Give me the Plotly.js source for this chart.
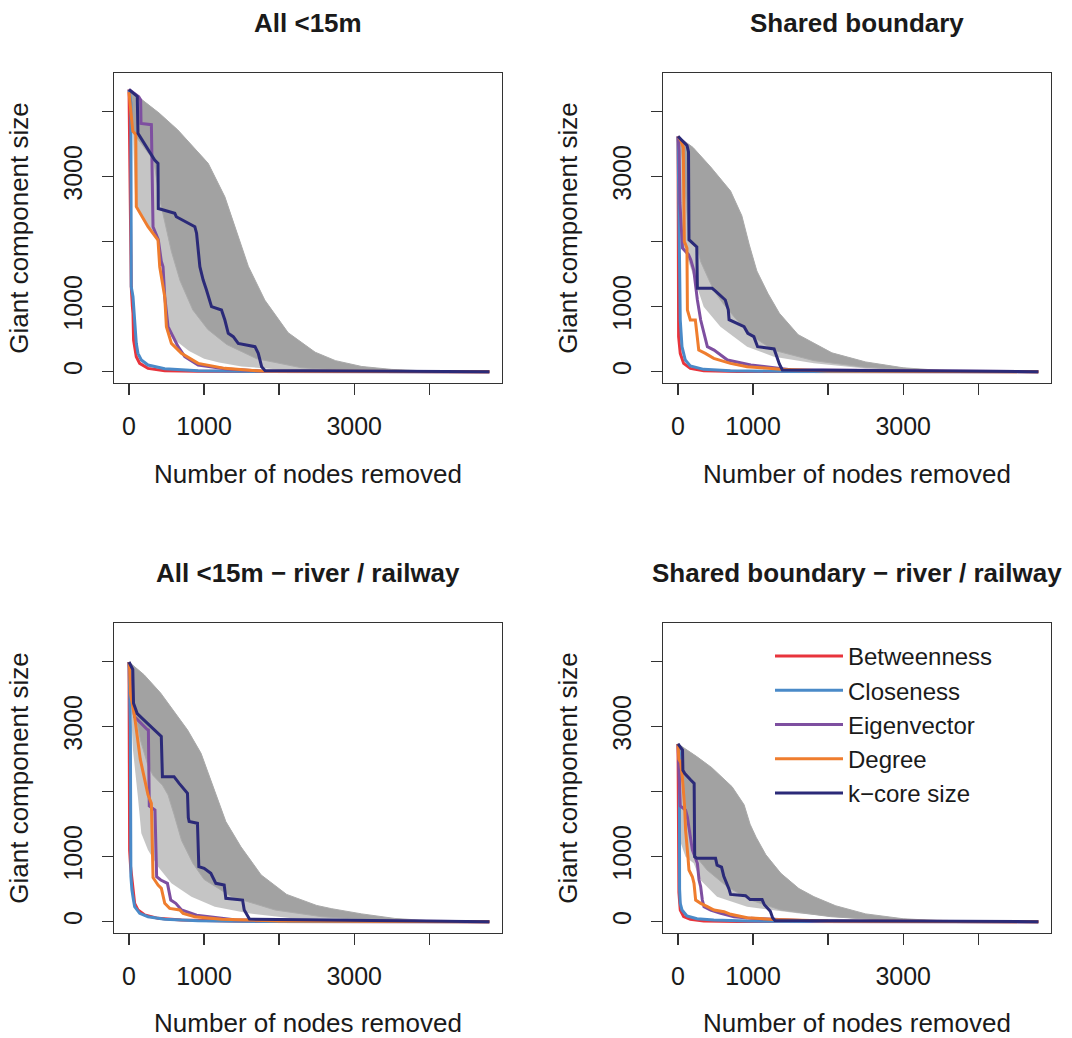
<!DOCTYPE html>
<html><head><meta charset="utf-8">
<script src="https://cdn.plot.ly/plotly-3.0.1.min.js"></script>
<style>html,body{margin:0;padding:0;background:#fff}#chart{width:1072px;height:1038px}</style>
</head><body><div id="chart"></div><script>
// ---------- labels ----------
const panelTitles = ['All <15m', 'Shared boundary', 'All <15m \u2212 river / railway', 'Shared boundary \u2212 river / railway'];
const seriesNames = ['Betweenness', 'Closeness', 'Eigenvector', 'Degree', 'k\u2212core size'];
const seriesColors = ['#e8343c', '#4a8ac8', '#7e4fa0', '#ef7d2e', '#2b2a78'];
const xTickVals = [0, 1000, 2000, 3000, 4000];
const xTickText = ['0', '1000', '', '3000', ''];
const yTickVals = [0, 1000, 2000, 3000, 4000];
const yTickText = ['0', '1000', '', '3000', ''];

// ---------- Panel 1: All <15m ----------
const all_randUpperX = [0, 100, 200, 400, 650, 1055, 1277, 1455, 1590, 1810, 2120, 2480, 2750, 3100, 3500, 4000, 4800];
const all_randUpperY = [4340, 4250, 4160, 3980, 3720, 3205, 2690, 2080, 1620, 1100, 600, 300, 170, 80, 35, 10, 0];
const all_randLowX = [0, 50, 80, 100, 250, 385, 420, 480, 520, 600, 800, 1000, 1200, 1500, 2000, 3000, 4800];
const all_randLowY = [4340, 3800, 2700, 2560, 2250, 2050, 1700, 1150, 750, 500, 320, 200, 140, 80, 35, 5, 0];
const all_randCoreX = [0, 40, 97, 330, 400, 480, 565, 680, 850, 1050, 1300, 1700, 2300, 3000, 4800];
const all_randCoreY = [4340, 3700, 3600, 3250, 2700, 2300, 1850, 1400, 950, 650, 420, 200, 60, 12, 0];
const all_betweenX = [0, 8, 17, 25, 30, 45, 53, 61, 75, 97, 142, 253, 476, 900, 4800];
const all_betweenY = [4340, 3300, 2180, 1600, 1308, 1000, 897, 487, 385, 231, 128, 51, 16, 5, 0];
const all_closeX = [0, 25, 30, 53, 75, 97, 119, 164, 253, 476, 921, 1800, 4800];
const all_closeY = [4340, 4130, 1308, 1154, 795, 436, 282, 180, 102, 46, 16, 3, 0];
const all_eigenX = [0, 130, 155, 160, 298, 320, 390, 430, 453, 476, 520, 587, 654, 743, 921, 1300, 1800, 4800];
const all_eigenY = [4340, 4230, 4180, 3820, 3800, 2230, 2030, 1700, 1615, 1154, 692, 539, 385, 231, 102, 40, 8, 0];
const all_degreeX = [0, 15, 50, 90, 97, 253, 386, 409, 440, 476, 498, 565, 698, 921, 1277, 1767, 4800];
const all_degreeY = [4300, 4100, 3700, 3650, 2538, 2231, 2026, 1615, 1400, 1154, 692, 436, 282, 128, 51, 10, 0];
const all_kcoreX = [0, 110, 119, 342, 386, 390, 610, 630, 877, 900, 944, 988, 1032, 1099, 1232, 1277, 1322, 1389, 1455, 1678, 1722, 1767, 1811, 4800];
const all_kcoreY = [4340, 4235, 3667, 3256, 3205, 2510, 2436, 2384, 2231, 2130, 1615, 1410, 1256, 1000, 949, 795, 590, 539, 436, 385, 282, 77, 20, 0];

// ---------- Panel 2: Shared boundary ----------
const shared_randUpperX = [0, 200, 435, 700, 850, 950, 1050, 1200, 1350, 1600, 2050, 2500, 3000, 3500, 4000, 4800];
const shared_randUpperY = [3620, 3450, 3150, 2780, 2400, 1950, 1550, 1200, 900, 570, 290, 150, 60, 20, 5, 0];
const shared_randLowX = [0, 15, 30, 75, 130, 253, 342, 565, 921, 1277, 1811, 2500, 3500, 4800];
const shared_randLowY = [3620, 3000, 2200, 1920, 1750, 1308, 1000, 692, 385, 231, 128, 50, 10, 0];
const shared_randCoreX = [0, 40, 84, 146, 258, 300, 476, 600, 743, 966, 1277, 1811, 2480, 3200, 4800];
const shared_randCoreY = [3620, 3450, 3000, 2030, 1900, 1700, 1250, 1050, 850, 560, 330, 170, 70, 20, 0];
const shared_betweenX = [0, 2, 4, 8, 30, 75, 164, 342, 800, 4800];
const shared_betweenY = [3620, 2200, 850, 539, 282, 128, 51, 15, 3, 0];
const shared_closeX = [0, 8, 15, 20, 30, 53, 97, 164, 342, 698, 1500, 4800];
const shared_closeY = [3620, 3000, 2400, 1820, 795, 385, 180, 87, 36, 15, 3, 0];
const shared_eigenX = [0, 15, 25, 60, 140, 170, 210, 258, 302, 346, 391, 480, 659, 970, 1500, 4800];
const shared_eigenY = [3620, 3400, 2600, 1900, 1800, 1720, 1560, 1103, 795, 590, 385, 333, 180, 103, 30, 0];
const shared_degreeX = [0, 40, 70, 84, 100, 119, 125, 164, 231, 253, 276, 364, 476, 698, 921, 1366, 2000, 4800];
const shared_degreeY = [3620, 3550, 3450, 2000, 1960, 1900, 950, 795, 795, 590, 333, 282, 205, 128, 77, 36, 10, 0];
const shared_kcoreX = [0, 120, 140, 146, 250, 258, 455, 500, 630, 670, 680, 790, 880, 930, 1010, 1060, 1280, 1350, 1390, 4800];
const shared_kcoreY = [3620, 3480, 3380, 2030, 1920, 1282, 1282, 1240, 1103, 950, 800, 744, 692, 590, 539, 385, 350, 120, 26, 0];

// ---------- Panel 3: All <15m - river / railway ----------
const allRR_randUpperX = [0, 200, 420, 780, 960, 1140, 1290, 1490, 1760, 2100, 2500, 2700, 3100, 3540, 4000, 4800];
const allRR_randUpperY = [3995, 3800, 3520, 2950, 2590, 2030, 1540, 1154, 720, 420, 250, 200, 120, 50, 15, 0];
const allRR_randLowX = [0, 20, 53, 120, 164, 253, 387, 565, 832, 1143, 1589, 2200, 3000, 4800];
const allRR_randLowY = [3995, 3400, 2641, 1900, 1359, 1103, 846, 590, 385, 231, 128, 50, 10, 0];
const allRR_randCoreX = [0, 20, 75, 150, 253, 320, 445, 520, 600, 700, 850, 1000, 1366, 1945, 2568, 3300, 4800];
const allRR_randCoreY = [3995, 3700, 3300, 2800, 2400, 2250, 2100, 1950, 1650, 1250, 900, 650, 385, 180, 77, 20, 0];
const allRR_betweenX = [0, 3, 8, 21, 53, 75, 119, 209, 387, 698, 1500, 4800];
const allRR_betweenY = [3995, 2000, 1100, 846, 487, 282, 180, 103, 51, 26, 5, 0];
const allRR_closeX = [0, 8, 18, 25, 39, 60, 75, 142, 253, 476, 921, 1800, 4800];
const allRR_closeY = [3995, 3300, 3000, 700, 487, 330, 231, 128, 77, 36, 15, 3, 0];
const allRR_eigenX = [0, 20, 75, 200, 240, 258, 270, 346, 368, 423, 512, 556, 623, 700, 900, 1400, 4800];
const allRR_eigenY = [3995, 3700, 3150, 3000, 2960, 2949, 1780, 1718, 692, 641, 590, 333, 282, 180, 100, 30, 0];
const allRR_degreeX = [0, 8, 20, 75, 150, 253, 298, 320, 342, 387, 431, 476, 542, 676, 720, 877, 1233, 2000, 4800];
const allRR_degreeY = [3995, 3900, 3500, 3154, 2500, 1950, 1820, 680, 641, 564, 513, 282, 205, 180, 128, 77, 36, 10, 0];
const allRR_kcoreX = [0, 50, 60, 110, 200, 340, 400, 430, 445, 600, 668, 779, 790, 801, 912, 930, 1001, 1090, 1157, 1268, 1290, 1513, 1535, 1570, 1605, 4800];
const allRR_kcoreY = [3995, 3880, 3360, 3200, 3100, 2950, 2870, 2850, 2231, 2231, 2128, 1974, 1600, 1540, 1513, 846, 821, 744, 590, 564, 359, 333, 180, 100, 40, 0];

// ---------- Panel 4: Shared boundary - river / railway ----------
const sharedRR_randUpperX = [0, 250, 450, 720, 880, 960, 1040, 1170, 1370, 1610, 1811, 2100, 2500, 3000, 3500, 4000, 4800];
const sharedRR_randUpperY = [2735, 2540, 2370, 2077, 1800, 1500, 1300, 1030, 744, 510, 385, 245, 120, 45, 15, 5, 0];
const sharedRR_randLowX = [0, 15, 40, 100, 209, 298, 520, 921, 1589, 2400, 3500, 4800];
const sharedRR_randLowY = [2735, 2200, 1200, 1000, 898, 641, 385, 231, 128, 40, 8, 0];
const sharedRR_randCoreX = [0, 20, 57, 100, 218, 240, 387, 654, 966, 1366, 2034, 2800, 4800];
const sharedRR_randCoreY = [2735, 2550, 2250, 1800, 1100, 1000, 795, 539, 334, 180, 77, 20, 0];
const sharedRR_betweenX = [0, 2, 4, 8, 12, 30, 75, 164, 342, 800, 4800];
const sharedRR_betweenY = [2735, 1800, 1000, 700, 450, 180, 77, 36, 12, 3, 0];
const sharedRR_closeX = [0, 8, 18, 21, 30, 53, 119, 253, 476, 921, 1800, 4800];
const sharedRR_closeY = [2735, 2650, 2590, 500, 282, 180, 87, 46, 26, 10, 2, 0];
const sharedRR_eigenX = [0, 10, 30, 101, 124, 191, 235, 258, 280, 302, 324, 346, 435, 569, 747, 970, 1800, 4800];
const sharedRR_eigenY = [2735, 2300, 1780, 1718, 1615, 1103, 949, 898, 641, 538, 333, 231, 180, 128, 77, 51, 10, 0];
const sharedRR_degreeX = [0, 10, 35, 57, 88, 101, 132, 146, 191, 213, 235, 302, 391, 480, 613, 702, 921, 1282, 2000, 4800];
const sharedRR_degreeY = [2735, 2500, 2450, 2230, 1769, 1410, 1000, 795, 692, 590, 333, 282, 231, 180, 154, 113, 60, 35, 10, 0];
const sharedRR_kcoreX = [0, 60, 65, 90, 170, 215, 222, 250, 500, 520, 580, 610, 680, 700, 900, 960, 1120, 1150, 1230, 1260, 1290, 4800];
const sharedRR_kcoreY = [2735, 2640, 2330, 2280, 2180, 2128, 1000, 975, 975, 870, 840, 700, 500, 420, 400, 340, 340, 260, 160, 60, 20, 0];

// ---------- assemble ----------
const panels = [
  {up: [all_randUpperX, all_randUpperY], low: [all_randLowX, all_randLowY], core: [all_randCoreX, all_randCoreY],
   lines: [[all_betweenX, all_betweenY], [all_closeX, all_closeY], [all_eigenX, all_eigenY], [all_degreeX, all_degreeY], [all_kcoreX, all_kcoreY]]},
  {up: [shared_randUpperX, shared_randUpperY], low: [shared_randLowX, shared_randLowY], core: [shared_randCoreX, shared_randCoreY],
   lines: [[shared_betweenX, shared_betweenY], [shared_closeX, shared_closeY], [shared_eigenX, shared_eigenY], [shared_degreeX, shared_degreeY], [shared_kcoreX, shared_kcoreY]]},
  {up: [allRR_randUpperX, allRR_randUpperY], low: [allRR_randLowX, allRR_randLowY], core: [allRR_randCoreX, allRR_randCoreY],
   lines: [[allRR_betweenX, allRR_betweenY], [allRR_closeX, allRR_closeY], [allRR_eigenX, allRR_eigenY], [allRR_degreeX, allRR_degreeY], [allRR_kcoreX, allRR_kcoreY]]},
  {up: [sharedRR_randUpperX, sharedRR_randUpperY], low: [sharedRR_randLowX, sharedRR_randLowY], core: [sharedRR_randCoreX, sharedRR_randCoreY],
   lines: [[sharedRR_betweenX, sharedRR_betweenY], [sharedRR_closeX, sharedRR_closeY], [sharedRR_eigenX, sharedRR_eigenY], [sharedRR_degreeX, sharedRR_degreeY], [sharedRR_kcoreX, sharedRR_kcoreY]]}
];

const traces = [];
panels.forEach((p, i) => {
  const xa = i === 0 ? 'x' : 'x' + (i + 1);
  const ya = i === 0 ? 'y' : 'y' + (i + 1);
  traces.push({
    type: 'scatter', mode: 'lines', xaxis: xa, yaxis: ya, showlegend: false, hoverinfo: 'skip',
    x: p.up[0].concat(p.low[0].slice().reverse()), y: p.up[1].concat(p.low[1].slice().reverse()),
    fill: 'toself', fillcolor: 'rgba(150,150,150,0.55)', line: {width: 0}
  });
  traces.push({
    type: 'scatter', mode: 'lines', xaxis: xa, yaxis: ya, showlegend: false, hoverinfo: 'skip',
    x: p.up[0].concat(p.core[0].slice().reverse()), y: p.up[1].concat(p.core[1].slice().reverse()),
    fill: 'toself', fillcolor: '#a2a2a2', line: {width: 1, color: '#aaaaaa'}
  });
  p.lines.forEach((ln, k) => {
    traces.push({
      type: 'scatter', mode: 'lines', xaxis: xa, yaxis: ya,
      name: seriesNames[k], legendgroup: seriesNames[k], showlegend: i === 0,
      x: ln[0], y: ln[1], line: {color: seriesColors[k], width: 3}
    });
  });
});

const W = 1072, H = 1038;
const colX = [[114 / W, 502 / W], [663 / W, 1051 / W]];
const rowY = [[1 - 383 / H, 1 - 73 / H], [1 - 933 / H, 1 - 623 / H]];
const fontFam = '"Liberation Sans", Arial, Helvetica, sans-serif';

function xAxis(dom, anchor) {
  return {
    domain: dom, anchor: anchor, range: [-200, 4969], tickmode: 'array', tickvals: xTickVals, ticktext: xTickText,
    ticks: 'outside', ticklen: 11, tickwidth: 1.3, tickcolor: '#333', showline: true, mirror: true,
    linecolor: '#333', linewidth: 1.3, showgrid: false, zeroline: false, tickfont: {size: 25, color: '#1a1a1a'},
    ticklabelstandoff: 10,
    title: {text: 'Number of nodes removed', font: {size: 26, color: '#1a1a1a'}, standoff: 25}
  };
}
function yAxis(dom, anchor) {
  return {
    domain: dom, anchor: anchor, range: [-174, 4595], tickmode: 'array', tickvals: yTickVals, ticktext: yTickText,
    ticks: 'outside', ticklen: 11, tickwidth: 1.3, tickcolor: '#333', showline: true, mirror: true,
    linecolor: '#333', linewidth: 1.3, showgrid: false, zeroline: false, tickfont: {size: 25, color: '#1a1a1a'},
    tickangle: -90, ticklabelstandoff: 10,
    title: {text: 'Giant component size', font: {size: 26, color: '#1a1a1a'}, standoff: 22}
  };
}

const layout = {
  width: W, height: H, margin: {l: 0, r: 0, t: 0, b: 0},
  paper_bgcolor: '#fff', plot_bgcolor: '#fff',
  font: {family: fontFam, color: '#1a1a1a', size: 24},
  xaxis: xAxis(colX[0], 'y'), yaxis: yAxis(rowY[0], 'x'),
  xaxis2: xAxis(colX[1], 'y2'), yaxis2: yAxis(rowY[0], 'x2'),
  xaxis3: xAxis(colX[0], 'y3'), yaxis3: yAxis(rowY[1], 'x3'),
  xaxis4: xAxis(colX[1], 'y4'), yaxis4: yAxis(rowY[1], 'x4'),
  showlegend: true,
  legend: {x: 770 / W, y: 1 - 634 / H, xanchor: 'left', yanchor: 'top', bgcolor: 'rgba(0,0,0,0)',
    font: {size: 24, color: '#1a1a1a'}, itemwidth: 68, tracegroupgap: 0},
  annotations: [
    {text: '<b>' + panelTitles[0].replace('<', '&lt;') + '</b>', x: 308 / W, y: 1 - 23 / H},
    {text: '<b>' + panelTitles[1] + '</b>', x: 857 / W, y: 1 - 23 / H},
    {text: '<b>' + panelTitles[2].replace('<', '&lt;') + '</b>', x: 308 / W, y: 1 - 573 / H},
    {text: '<b>' + panelTitles[3] + '</b>', x: 857 / W, y: 1 - 573 / H}
  ].map(a => Object.assign(a, {xref: 'paper', yref: 'paper', xanchor: 'center', yanchor: 'middle', showarrow: false,
    font: {size: 26, color: '#1a1a1a', family: fontFam}}))
};

Plotly.newPlot('chart', traces, layout, {staticPlot: true, displayModeBar: false});
</script></body></html>
